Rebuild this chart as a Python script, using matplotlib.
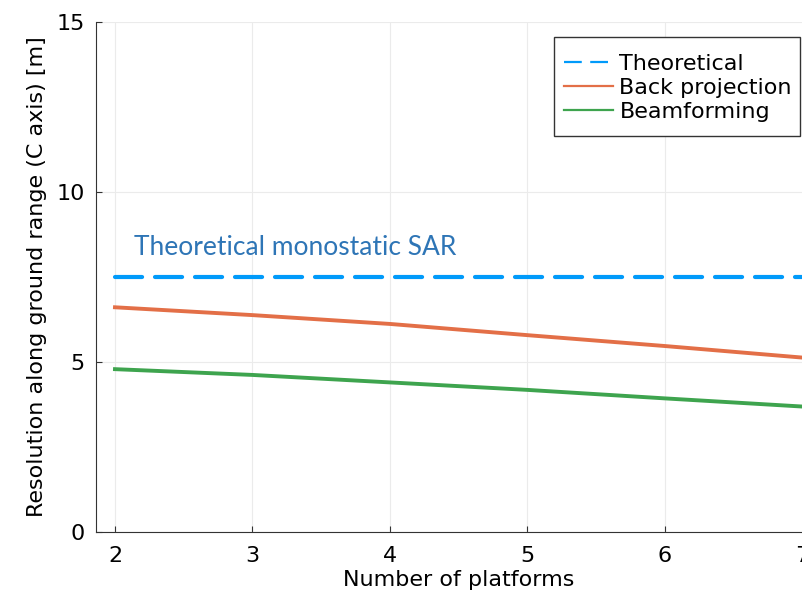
import matplotlib
matplotlib.use("Agg")
import matplotlib.pyplot as plt
from matplotlib.lines import Line2D
from matplotlib.patches import Rectangle

platforms = [2, 3, 4, 5, 6, 7]
theoretical = [7.5, 7.5, 7.5, 7.5, 7.5, 7.5]
back_projection = [6.61, 6.38, 6.12, 5.79, 5.47, 5.13]
beamforming = [4.79, 4.62, 4.40, 4.18, 3.93, 3.69]
x_ticks = [2, 3, 4, 5, 6, 7]
y_ticks = [0, 5, 10, 15]

c_theo, c_bp, c_bf = "#009AFA", "#E36F47", "#3EA44E"

fig = plt.figure(figsize=(8.02, 5.95), dpi=100)
ax = fig.add_axes([0.1197, 0.1059, 0.9046, 0.857])

ax.plot(platforms, theoretical, color=c_theo, lw=3, ls=(0, (6.5, 3.1)),
        dash_capstyle="round")
ax.plot(platforms, back_projection, color=c_bp, lw=2.8)
ax.plot(platforms, beamforming, color=c_bf, lw=2.8)

ax.set_xlim(1.862, 7.138)
ax.set_ylim(0, 15)
ax.set_xticks(x_ticks)
ax.set_yticks(y_ticks)
ax.grid(True, color="#ebebeb", lw=0.8)
ax.tick_params(direction="in", labelsize=16, length=4, color="#333333")
ax.tick_params(axis="x", pad=10)
ax.tick_params(axis="y", pad=8)
for s in ["top", "right"]:
    ax.spines[s].set_visible(False)
for s in ["left", "bottom"]:
    ax.spines[s].set_color("#333333")

ax.set_xlabel("Number of platforms", fontsize=16, labelpad=3)
ax.set_ylabel("Resolution along ground range (C axis) [m]", fontsize=16, labelpad=7)

ax.text(2.14, 8.15, "Theoretical monostatic SAR", color="#2E75B6",
        fontsize=19, family="Lato")

# legend entries with a taller box drawn around them
handles = [
    Line2D([], [], color=c_theo, lw=1.6, ls=(0, (8, 3.8))),
    Line2D([], [], color=c_bp, lw=1.6),
    Line2D([], [], color=c_bf, lw=1.6),
]
labels = ["Theoretical", "Back projection", "Beamforming"]
ax.legend(handles, labels, loc="upper right", bbox_to_anchor=(0.970, 0.953),
          fontsize=16, frameon=False, handlelength=2.2,
          handletextpad=0.3, borderpad=0.35, labelspacing=0.19,
          borderaxespad=0)
ax.add_patch(Rectangle((0.6908, 0.7714), 0.3067, 0.1664,
                       transform=fig.transFigure, fill=True,
                       facecolor="white", edgecolor="#333333",
                       lw=1.0, zorder=4.9, clip_on=False))

fig.savefig("out.png", dpi=100)
